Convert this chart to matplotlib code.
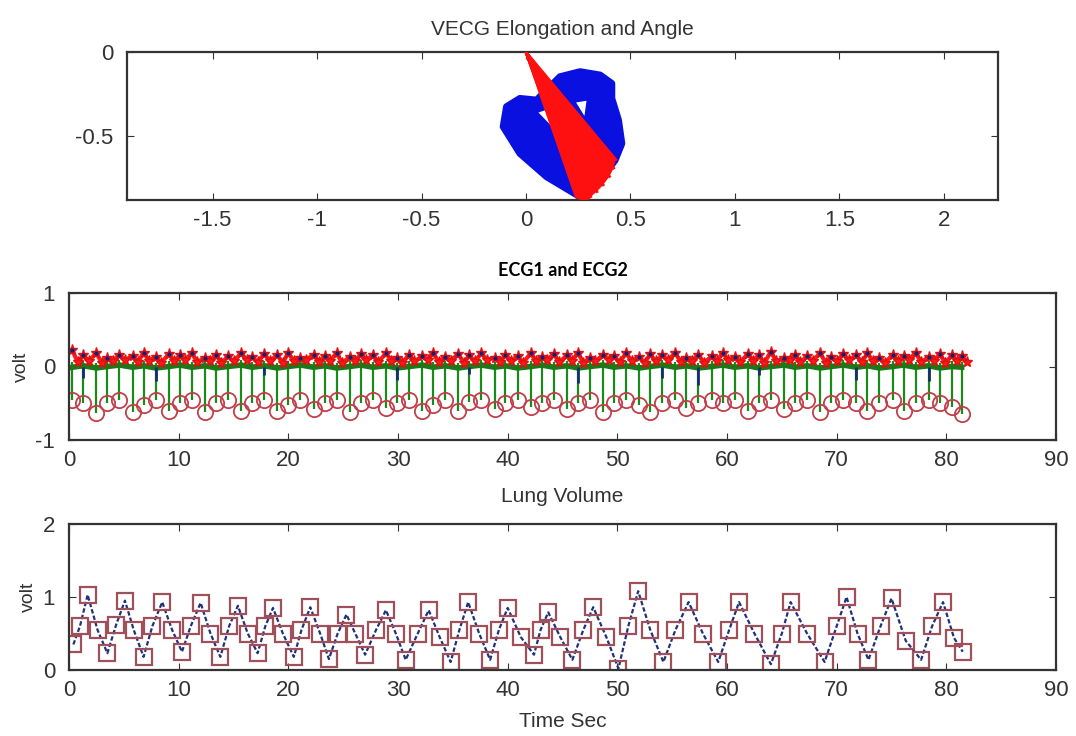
import matplotlib
matplotlib.use("Agg")
import matplotlib.pyplot as plt
import numpy as np

# === DATA ===
# VECG loops (x, y)
loop_outer_x = [0.259, 0.099, -0.029, -0.109, -0.093, -0.029, 0.051, 0.099, 0.163, 0.259, 0.355, 0.411, 0.411, 0.443, 0.459, 0.427, 0.355, 0.291, 0.259]
loop_outer_y = [-0.861, -0.742, -0.603, -0.444, -0.325, -0.276, -0.286, -0.226, -0.147, -0.117, -0.137, -0.187, -0.276, -0.405, -0.544, -0.643, -0.762, -0.861, -0.861]
loop_mid_x = [0.251, 0.123, 0.019, -0.037, -0.029, 0.035, 0.131, 0.243, 0.355, 0.379, 0.411, 0.395, 0.323, 0.251]
loop_mid_y = [-0.841, -0.692, -0.543, -0.424, -0.335, -0.315, -0.226, -0.176, -0.206, -0.325, -0.464, -0.603, -0.762, -0.841]
hole1_x = [0.06, 0.15, 0.13, 0.06]
hole1_y = [-0.36, -0.32, -0.45, -0.36]
hole2_x = [0.24, 0.29, 0.28, 0.24]
hole2_y = [-0.30, -0.29, -0.38, -0.30]
# elongation vectors from origin
vec_x = [0.24, 0.25, 0.26, 0.27, 0.28, 0.29, 0.30, 0.31, 0.34, 0.37, 0.40, 0.42, 0.43]
vec_y = [-0.86, -0.865, -0.87, -0.875, -0.88, -0.88, -0.87, -0.86, -0.83, -0.79, -0.74, -0.69, -0.64]

# ECG beats
beat_t = [0.3, 1.3, 2.5, 3.5, 4.6, 5.8, 6.8, 7.9, 9.1, 10.1, 11.2, 12.4, 13.4, 14.5, 15.7, 16.7,
          17.8, 19.0, 20.0, 21.1, 22.3, 23.3, 24.4, 25.6, 26.6, 27.7, 28.9, 29.9, 31.0, 32.2, 33.2,
          34.3, 35.5, 36.5, 37.6, 38.8, 39.8, 40.9, 42.1, 43.1, 44.2, 45.4, 46.4, 47.5, 48.7, 49.7,
          50.8, 52.0, 53.0, 54.1, 55.3, 56.3, 57.4, 58.6, 59.6, 60.7, 61.9, 62.9, 64.0, 65.2, 66.2,
          67.3, 68.5, 69.5, 70.6, 71.8, 72.8, 73.9, 75.1, 76.1, 77.2, 78.4, 79.4, 80.5, 81.4]
s_depth = [-0.45, -0.5, -0.63, -0.5, -0.45, -0.62, -0.52, -0.45, -0.6, -0.5, -0.45, -0.62, -0.5, -0.46, -0.6, -0.5,
           -0.45, -0.6, -0.52, -0.45, -0.58, -0.5, -0.46, -0.62, -0.5, -0.45, -0.56, -0.5, -0.45, -0.6, -0.52,
           -0.45, -0.6, -0.48, -0.45, -0.58, -0.5, -0.45, -0.55, -0.5, -0.45, -0.58, -0.5, -0.45, -0.62, -0.5,
           -0.45, -0.52, -0.62, -0.5, -0.45, -0.56, -0.5, -0.45, -0.5, -0.45, -0.6, -0.5, -0.45, -0.58, -0.5,
           -0.45, -0.62, -0.5, -0.45, -0.5, -0.6, -0.5, -0.45, -0.6, -0.5, -0.45, -0.5, -0.55, -0.64]
r_peak = [0.22, 0.15, 0.18, 0.12, 0.16, 0.14, 0.19, 0.13, 0.17, 0.15, 0.18, 0.12, 0.16, 0.14, 0.18, 0.13,
          0.17, 0.15, 0.19, 0.12, 0.16, 0.14, 0.18, 0.13, 0.17, 0.15, 0.18, 0.12, 0.16, 0.14, 0.19, 0.13,
          0.17, 0.15, 0.18, 0.12, 0.16, 0.14, 0.18, 0.13, 0.17, 0.15, 0.19, 0.12, 0.16, 0.14, 0.18, 0.13,
          0.17, 0.15, 0.18, 0.12, 0.16, 0.14, 0.19, 0.13, 0.17, 0.15, 0.2, 0.12, 0.16, 0.14, 0.18, 0.13,
          0.17, 0.15, 0.18, 0.12, 0.16, 0.14, 0.19, 0.13, 0.17, 0.15, 0.14]
r_low = [0.06, 0.08, 0.05, 0.07, 0.09, 0.06, 0.08, 0.05, 0.07, 0.09, 0.06, 0.08, 0.05, 0.07, 0.09, 0.06,
         0.08, 0.05, 0.07, 0.09, 0.06, 0.08, 0.05, 0.07, 0.09, 0.06, 0.08, 0.05, 0.07, 0.09, 0.06, 0.08,
         0.05, 0.07, 0.09, 0.06, 0.08, 0.05, 0.07, 0.09, 0.06, 0.08, 0.05, 0.07, 0.09, 0.06, 0.08, 0.05,
         0.07, 0.09, 0.06, 0.08, 0.05, 0.07, 0.09, 0.06, 0.08, 0.05, 0.07, 0.09, 0.06, 0.08, 0.05, 0.07,
         0.09, 0.06, 0.08, 0.05, 0.07, 0.09, 0.06, 0.08, 0.05, 0.07, 0.06]
blue_t = [1.3, 7.9, 17.8, 29.9, 36.5, 46.4, 54.1, 57.4, 62.9, 71.8, 78.4]
blue_depth = [-0.15, -0.2, -0.12, -0.18, -0.1, -0.22, -0.15, -0.25, -0.12, -0.18, -0.2]

# lung volume samples
lung_t = [0.4, 1.0, 1.7, 2.6, 3.5, 4.3, 5.1, 5.9, 6.8, 7.6, 8.5, 9.4, 10.3, 11.1, 12.0, 12.9, 13.8, 14.6,
          15.4, 16.3, 17.2, 17.9, 18.6, 19.5, 20.5, 21.2, 22.0, 22.9, 23.7, 24.5, 25.3, 26.1, 27.0, 28.0,
          28.9, 29.8, 30.7, 31.8, 32.8, 33.8, 34.8, 35.6, 36.4, 37.4, 38.4, 39.2, 40.0, 41.2, 42.4, 43.0,
          43.7, 44.8, 45.9, 46.9, 47.8, 49.0, 50.1, 51.0, 51.9, 53.0, 54.2, 55.3, 56.5, 57.8, 59.2, 60.2,
          61.1, 62.5, 64.0, 65.0, 65.8, 67.3, 68.9, 70.0, 70.9, 71.9, 72.9, 74.0, 75.0, 76.3, 77.7, 78.7,
          79.7, 80.7, 81.5]
lung_v = [0.35, 0.6, 1.03, 0.55, 0.23, 0.62, 0.95, 0.55, 0.18, 0.6, 0.93, 0.55, 0.25, 0.6, 0.92, 0.5, 0.18, 0.6,
          0.88, 0.5, 0.23, 0.6, 0.85, 0.5, 0.18, 0.55, 0.86, 0.5, 0.15, 0.5, 0.76, 0.5, 0.21, 0.55,
          0.82, 0.5, 0.14, 0.5, 0.82, 0.45, 0.11, 0.55, 0.93, 0.5, 0.14, 0.55, 0.85, 0.45, 0.21, 0.55,
          0.79, 0.45, 0.14, 0.55, 0.86, 0.45, 0.02, 0.6, 1.08, 0.55, 0.11, 0.55, 0.93, 0.5, 0.11, 0.55,
          0.93, 0.5, 0.08, 0.5, 0.93, 0.5, 0.11, 0.6, 1.0, 0.5, 0.14, 0.6, 0.98, 0.4, 0.14, 0.6,
          0.93, 0.44, 0.25]

# === Styling ===
plt.rcParams.update({
    'font.family': 'Liberation Sans',
    'axes.unicode_minus': False,
    'axes.edgecolor': '#333333',
    'axes.linewidth': 1.6,
    'xtick.color': '#333333',
    'ytick.color': '#333333',
    'xtick.direction': 'in',
    'ytick.direction': 'in',
    'xtick.top': True,
    'ytick.right': True,
    'xtick.major.size': 5,
    'ytick.major.size': 5,
    'xtick.major.pad': 7,
    'ytick.major.pad': 10,
    'xtick.labelsize': 16,
    'ytick.labelsize': 16,
})

W, H = 1076, 736
fig = plt.figure(figsize=(W / 100, H / 100), dpi=100)


def px_axes(left, top, right, bottom):
    return fig.add_axes([left / W, 1 - bottom / H, (right - left) / W, (bottom - top) / H])


# --- VECG ---
ax1 = px_axes(127, 52, 998, 200)
ax1.fill(loop_outer_x, loop_outer_y, color='#0a10e0', lw=0, zorder=1)
for lx, ly in [(loop_outer_x, loop_outer_y), (loop_mid_x, loop_mid_y)]:
    ax1.plot(lx, ly, color='#0a10e0', lw=5, solid_joinstyle='round', solid_capstyle='round', zorder=1.5)
ax1.fill(hole1_x, hole1_y, color='white', lw=0, zorder=1.6)
ax1.fill(hole2_x, hole2_y, color='white', lw=0, zorder=1.6)
ax1.fill([0] + vec_x, [0] + vec_y, color='#ff1010', lw=0, zorder=3)
for vx, vy in zip(vec_x, vec_y):
    ax1.plot([0, vx], [0, vy], color='#ff1010', lw=2, zorder=3)
ax1.set_xlim(-1.91, 2.26)
ax1.set_ylim(-0.88, 0)
ax1.set_xticks([-1.5, -1, -0.5, 0, 0.5, 1, 1.5, 2])
ax1.set_xticklabels(['-1.5', '-1', '-0.5', '0', '0.5', '1', '1.5', '2'])
ax1.set_yticks([-0.5, 0])
ax1.set_yticklabels(['-0.5', '0'])
ax1.set_title("VECG Elongation and Angle", fontsize=15, color='#333333', pad=12)

# --- ECG1 and ECG2 ---
ax2 = px_axes(69, 293, 1056, 440)
bt = np.array(beat_t)
ax2.vlines(bt, s_depth, r_low, color='#1a8a1a', lw=1.6)
ax2.plot(bt, np.array(r_low) - 0.07, color='#1a7a1a', lw=4)
ax2.vlines(blue_t, blue_depth, 0, color='#10306a', lw=2)
red_t = np.ravel(np.column_stack([bt, bt + 0.5]))
red_v = np.ravel(np.column_stack([r_peak, r_low]))
ax2.plot(red_t, red_v, color='#ff1a1a', lw=3, marker='*', ms=8, mec='#e01010')
ax2.plot(bt, r_peak, ls='none', marker='.', ms=4, color='#10207a')
ax2.plot(bt, s_depth, ls='none', marker='o', ms=11, mfc='none', mec='#c0404a', mew=1.3)
ax2.set_xlim(0, 90)
ax2.set_ylim(-1, 1)
ax2.set_xticks(range(0, 91, 10))
ax2.set_yticks([-1, 0, 1])
ax2.set_ylabel("volt", fontsize=14, color='#333333', labelpad=4)
ax2.set_title("ECG1 and ECG2", fontsize=13, fontweight='bold', family='Lato', color='black', pad=12)

# --- Lung Volume ---
ax3 = px_axes(69, 524, 1056, 670)
ax3.plot(lung_t, lung_v, color='#23307a', lw=1.6, ls=(0, (2, 1)), marker='s', ms=12,
         mfc='none', mec='#a0505a', mew=1.6)
ax3.set_xlim(0, 90)
ax3.set_ylim(0, 2)
ax3.set_xticks(range(0, 91, 10))
ax3.set_yticks([0, 1, 2])
ax3.set_ylabel("volt", fontsize=14, color='#333333', labelpad=4)
ax3.set_title("Lung Volume", fontsize=15, color='#333333', pad=16)
ax3.set_xlabel("Time Sec", fontsize=15, color='#333333', labelpad=8)

fig.savefig("out.png", dpi=100)
